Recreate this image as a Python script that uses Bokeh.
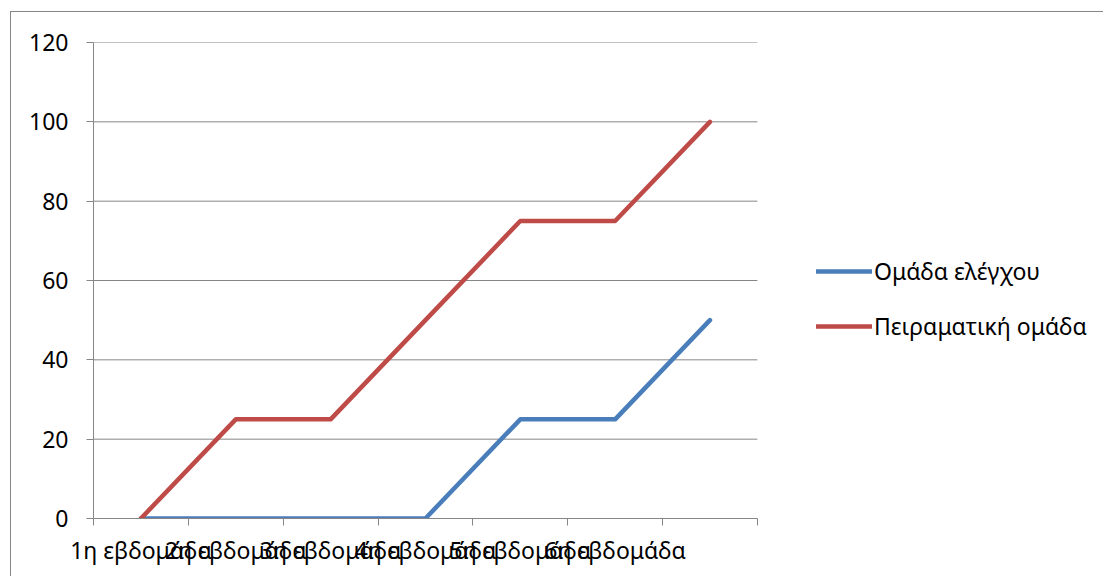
from bokeh.plotting import figure
from bokeh.models import Range1d, FixedTicker, Legend, LegendItem, ColumnDataSource
from bokeh.embed import file_html
from bokeh.resources import INLINE

# ---- data ----
week_labels = ["1η εβδομάδα", "2η εβδομάδα", "3η εβδομάδα", "4η εβδομάδα",
               "5η εβδομάδα", "6η εβδομάδα", ""]
week_index = [1, 2, 3, 4, 5, 6, 7]
control_group = [0, 0, 0, 0, 25, 25, 50]          # Ομάδα ελέγχου
experimental_group = [0, 25, 25, 50, 75, 75, 100]  # Πειραματική ομάδα
y_ticks = [0, 20, 40, 60, 80, 100, 120]
series_names = ["Ομάδα ελέγχου", "Πειραματική ομάδα"]

FONT = "Noto Sans"
FS = "23px"
GRID = "#868686"

src = ColumnDataSource(dict(x=week_index, c=control_group, e=experimental_group))

n = len(week_index)
lo, hi = 0.5, n + 0.5
# frame extends to the right edge (room for the legend); grid/axis are bounded to the categories
p = figure(width=1093, height=565, margin=(11, 0, 0, 10),
           output_backend="svg", toolbar_location=None,
           x_range=Range1d(0.5, 11.16), y_range=Range1d(0, 120),
           min_border_left=82, min_border_right=0, min_border_top=30, min_border_bottom=59)
p.styles = {"border-left": "1px solid #868686", "border-top": "1px solid #868686"}
p.outline_line_color = None
p.background_fill_color = "white"
p.border_fill_color = "white"

p.xgrid.visible = False
p.ygrid.visible = False
# horizontal gridlines limited to the category span
p.segment(x0=[lo] * len(y_ticks), x1=[hi] * len(y_ticks), y0=y_ticks, y1=y_ticks,
          line_color=GRID, line_width=1)

# y axis
p.yaxis.ticker = FixedTicker(ticks=y_ticks, minor_ticks=[])
p.yaxis.axis_line_color = GRID
p.yaxis.major_tick_line_color = GRID
p.yaxis.major_tick_out = 7
p.yaxis.major_tick_in = 0
p.yaxis.minor_tick_line_color = None
p.yaxis.major_label_standoff = 18
p.yaxis.major_label_text_font = FONT
p.yaxis.major_label_text_font_size = FS
p.yaxis.major_label_text_color = "black"

# x axis: labels at category centres, tick marks between categories
p.xaxis.bounds = (lo, hi)
p.xaxis.ticker = FixedTicker(ticks=week_index,
                             minor_ticks=[i + 0.5 for i in range(n + 1)])
p.xaxis.major_label_overrides = {i: lbl for i, lbl in zip(week_index, week_labels)}
p.xaxis.axis_line_color = GRID
p.xaxis.major_tick_line_color = None
p.xaxis.minor_tick_line_color = GRID
p.xaxis.minor_tick_out = 7
p.xaxis.minor_tick_in = 0
p.xaxis.major_tick_out = 7
p.xaxis.major_tick_in = 0
p.xaxis.major_label_standoff = 8
p.xaxis.major_label_text_font = FONT
p.xaxis.major_label_text_font_size = FS
p.xaxis.major_label_text_color = "black"

r1 = p.line("x", "c", source=src, line_color="#4A7EBB", line_width=4.5,
            line_cap="round", line_join="round")
r2 = p.line("x", "e", source=src, line_color="#BE4B48", line_width=4.5,
            line_cap="round", line_join="round")

legend = Legend(items=[LegendItem(label=series_names[0], renderers=[r1]),
                       LegendItem(label=series_names[1], renderers=[r2])],
                location=(723, 176))
legend.border_line_color = None
legend.background_fill_alpha = 0
legend.padding = 0
legend.margin = 0
legend.spacing = 23
legend.glyph_width = 56
legend.glyph_height = 20
legend.label_height = 20
legend.label_standoff = 2
legend.label_text_font = FONT
legend.label_text_font_size = FS
legend.label_text_color = "black"
legend.label_text_baseline = "middle"
p.add_layout(legend)

open("out.html", "w").write(file_html(p, INLINE))
